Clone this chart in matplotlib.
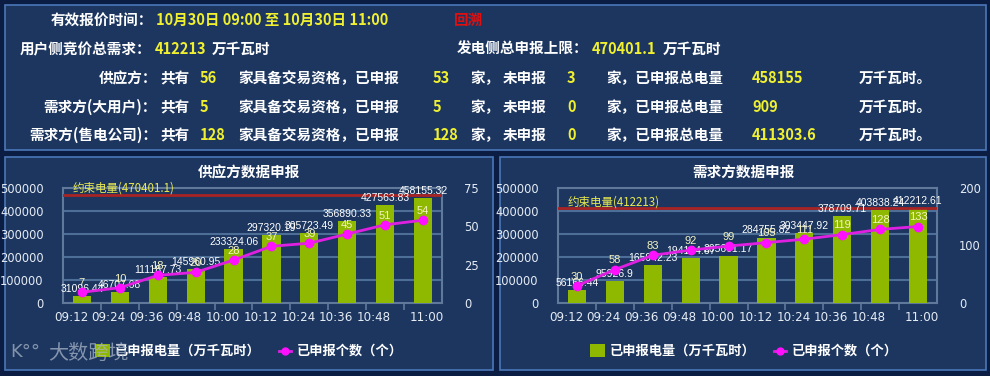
import matplotlib.pyplot as plt
import numpy as np
from matplotlib.patches import Rectangle
from matplotlib.lines import Line2D
from matplotlib.transforms import ScaledTranslation

plt.rcParams["font.family"] = ["Noto Sans CJK SC", "DejaVu Sans"]

times = ["09:12", "09:24", "09:36", "09:48", "10:00", "10:12", "10:24", "10:36", "10:48", "11:00"]

supply_energy = [31096.44, 46707.68, 111187.73, 145960.95, 233324.06,
                 297320.19, 305723.49, 356890.33, 427563.83, 458155.32]
supply_count = [7, 10, 18, 20, 28, 37, 39, 45, 51, 54]
supply_limit = 470401.1

demand_energy = [56166.44, 95926.9, 165942.23, 194164.67, 205661.17,
                 284755.82, 303447.92, 378709.71, 403838.24, 412212.61]
demand_count = [30, 58, 83, 92, 99, 105, 111, 119, 128, 133]
demand_limit = 412213

W, H = 990, 376
OUTER = "#0c1d44"
PANEL = "#1c3660"
EDGE = "#4a78b8"
GRID = "#4d6e96"
FRAME = "#60799a"
BAR = "#8fb800"
LINE = "#e020e0"
YEL = "#f0f030"
TICK = "#e6ecf4"

fig = plt.figure(figsize=(W / 100, H / 100), dpi=100, facecolor=OUTER)


def fx(x):
    return x / W


def fy(y):
    return 1 - y / H


def num(v):
    return ("%.2f" % v).rstrip("0").rstrip(".")


def panel(x0, y0, x1, y1):
    fig.patches.append(Rectangle((fx(x0), fy(y1)), fx(x1 - x0), (y1 - y0) / H,
                                 transform=fig.transFigure, facecolor=PANEL,
                                 edgecolor=EDGE, linewidth=1.2, zorder=-5))


panel(5, 5, 986, 150)
panel(5, 157, 493, 370)
panel(500, 157, 986, 370)


def txt(x, y, s, color="white", ha="left", size=10.5):
    fig.text(fx(x), fy(y), s, color=color, ha=ha, va="center",
             fontsize=size, fontweight="bold")


# header block
txt(153, 20, "有效报价时间：", ha="right")
txt(156, 20, "10月30日 09:00 至 10月30日 11:00", YEL)
txt(454, 20, "回溯", "#e01010")
txt(20, 49, "用户侧竞价总需求：")
txt(155, 49, "412213", YEL)
txt(212, 49, "万千瓦时")
txt(457, 49, "发电侧总申报上限：")
txt(592, 49, "470401.1", YEL)
txt(663, 49, "万千瓦时")

rows = [("供应方：", "56", "53", "3", "458155", 78),
        ("需求方(大用户)：", "5", "5", "0", "909", 107),
        ("需求方(售电公司)：", "128", "128", "0", "411303.6", 135)]
for label, total, done, left, amount, y in rows:
    txt(157, y, label, ha="right")
    txt(160, y, "共有")
    txt(200, y, total, YEL)
    txt(238, y, "家具备交易资格，已申报")
    txt(433, y, done, YEL)
    txt(470, y, "家，")
    txt(503, y, "未申报")
    txt(567, y, left, YEL)
    txt(606, y, "家，已申报总电量")
    txt(752, y, amount, YEL)
    txt(859, y, "万千瓦时。")


def chart(x0, x1, title, energy, count, limit, rmax, rticks, cx):
    ax = fig.add_axes([fx(x0), fy(303), fx(x1 - x0), (303 - 188) / H])
    ax.set_facecolor(PANEL)
    pos = np.arange(len(times))
    ax.bar(pos, energy, width=0.48, color=BAR, zorder=3)
    ax.set_xlim(-0.5, len(times) - 0.5)
    ax.set_ylim(0, 500000)
    ax.set_yticks(np.arange(0, 500001, 100000))
    ax.grid(axis="y", color=GRID, linewidth=1.5, zorder=0)
    for s in ax.spines.values():
        s.set_color(FRAME)
        s.set_linewidth(1.5)
    ax.tick_params(axis="y", length=0, pad=14, colors=TICK, labelsize=8.3)
    ax.set_yticklabels([str(v) for v in range(0, 500001, 100000)],
                       family="DejaVu Sans")
    ax.set_xticks(pos)
    ax.set_xticklabels(times, family="DejaVu Sans")
    ax.tick_params(axis="x", which="major", length=0, pad=6, colors=TICK, labelsize=8.6)
    for i, lab in enumerate(ax.get_xticklabels()):
        dx = 4 if i == len(times) - 1 else -11
        lab.set_transform(lab.get_transform() + ScaledTranslation(dx / 100, 0, fig.dpi_scale_trans))
    ax.set_xticks(np.arange(0.5, len(times) - 0.5, 1), minor=True)
    ax.tick_params(axis="x", which="minor", length=5, color=FRAME, width=1.2)

    ax.axhline(limit, color="#a82424", linewidth=2, zorder=4)
    ax.text(-0.25, limit, "约束电量(%s)" % num(limit), color="#e8e850",
            fontsize=8.3, va="bottom", ha="left", zorder=5)
    for p, v in zip(pos, energy):
        ax.annotate(num(v), (p, v), xytext=(0, 1.5), textcoords="offset points",
                    ha="center", va="bottom", color="white", fontsize=7.5,
                    family="Liberation Sans", zorder=6)

    ax2 = ax.twinx()
    ax2.plot(pos, count, color=LINE, linewidth=2, marker="o", markersize=6,
             markerfacecolor="#ff10ff", markeredgecolor="#ff10ff", zorder=5)
    ax2.set_ylim(0, rmax)
    ax2.set_yticks(rticks)
    ax2.tick_params(axis="y", length=0, pad=16, colors=TICK, labelsize=8.3)
    ax2.set_yticklabels([str(t) for t in rticks], family="DejaVu Sans")
    for s in ax2.spines.values():
        s.set_visible(False)
    for p, c in zip(pos, count):
        ax2.annotate(str(c), (p, c), xytext=(0, 3), textcoords="offset points",
                     ha="center", va="bottom", color="#f4f4c0", fontsize=8,
                     family="Liberation Sans", zorder=6)

    fig.text(fx(cx), fy(172), title, color="white", ha="center", va="center",
             fontsize=10.5, fontweight="bold")

    # legend
    lx = x0 + 32
    fig.patches.append(Rectangle((fx(lx), fy(357)), fx(15), 13 / H,
                                 transform=fig.transFigure, facecolor=BAR, zorder=3))
    fig.text(fx(lx + 20), fy(351), "已申报电量（万千瓦时）", color="white",
             va="center", fontsize=9.5, fontweight="bold")
    mx = lx + 190
    fig.lines.append(Line2D([fx(mx - 6), fx(mx + 6)], [fy(351), fy(351)],
                            transform=fig.transFigure, color=LINE, linewidth=2))
    fig.lines.append(Line2D([fx(mx)], [fy(351)], transform=fig.transFigure,
                            color="#ff10ff", marker="o", markersize=5))
    fig.text(fx(mx + 12), fy(351), "已申报个数（个）", color="white",
             va="center", fontsize=9.5, fontweight="bold")


chart(63, 442, "供应方数据申报", supply_energy, supply_count, supply_limit,
      75, [0, 25, 50, 75], 249)
chart(558, 937, "需求方数据申报", demand_energy, demand_count, demand_limit,
      200, [0, 100, 200], 743)

# watermark
fig.text(fx(10), fy(352), "K°°", color="#b0bccc", alpha=0.7,
         va="center", fontsize=13, family="DejaVu Sans")
fig.text(fx(48), fy(353), "大数跨境", color="#a8b4c6", alpha=0.75,
         va="center", fontsize=14.5)

fig.savefig("out.png", dpi=100, facecolor=OUTER)
